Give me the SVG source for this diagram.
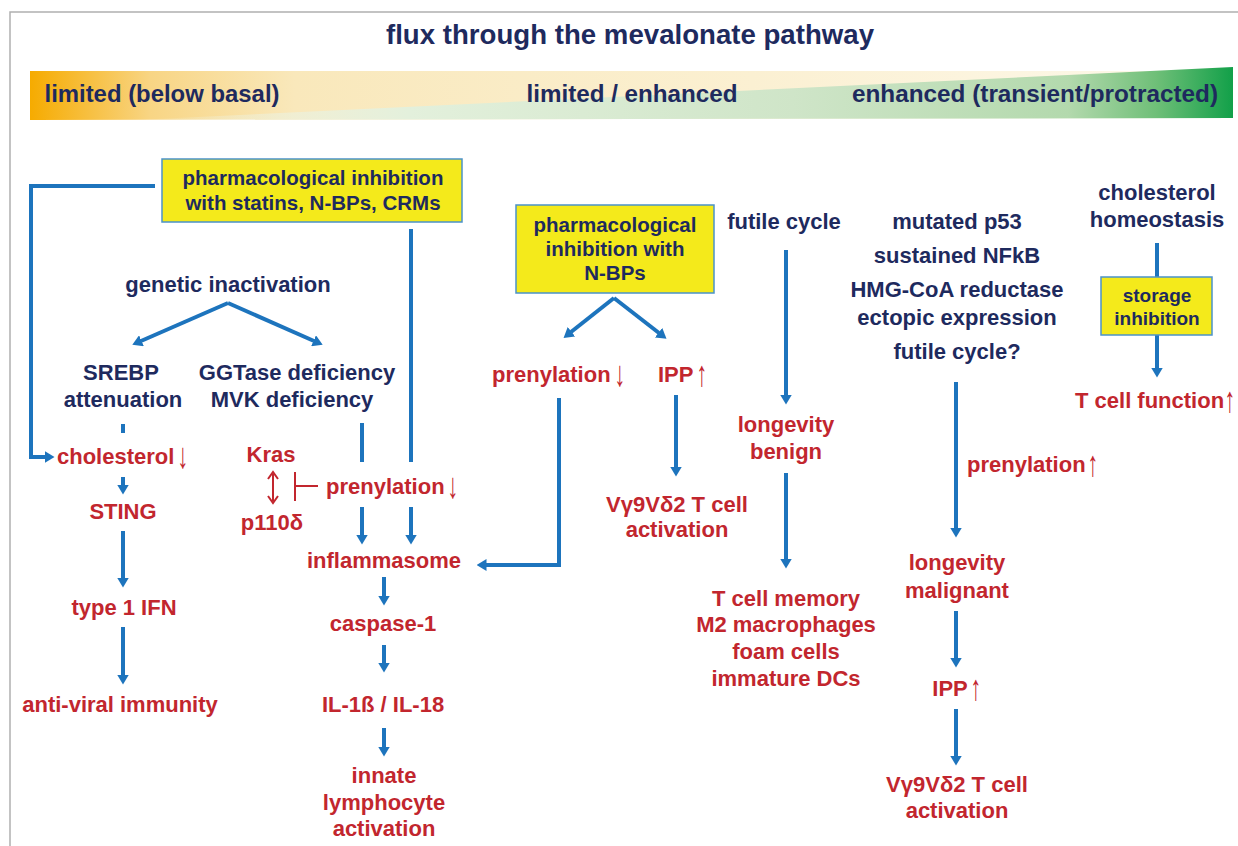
<svg xmlns="http://www.w3.org/2000/svg" width="1238" height="846" viewBox="0 0 1238 846">
<defs>
<linearGradient id="gy" x1="30" y1="0" x2="1233" y2="0" gradientUnits="userSpaceOnUse">
<stop offset="0" stop-color="#f6ab00"/>
<stop offset="0.1" stop-color="#f8d584"/>
<stop offset="0.22" stop-color="#f9e8bb"/>
<stop offset="0.6" stop-color="#fbf0d2"/>
<stop offset="1" stop-color="#fdf9ec"/>
</linearGradient>
<linearGradient id="gg" x1="135" y1="0" x2="1233" y2="0" gradientUnits="userSpaceOnUse">
<stop offset="0" stop-color="#f2f7ee" stop-opacity="0"/>
<stop offset="0.25" stop-color="#e3f0dc"/>
<stop offset="0.6" stop-color="#cfe5c8"/>
<stop offset="0.85" stop-color="#b3d9ad"/>
<stop offset="0.93" stop-color="#6fbf78"/>
<stop offset="1" stop-color="#12a049"/>
</linearGradient>
<marker id="ah" viewBox="0 0 10 12" markerWidth="10" markerHeight="12" refX="0.5" refY="6" orient="auto" markerUnits="userSpaceOnUse">
<path d="M0,0 L10,6 L0,12 z" fill="#1d74bd"/>
</marker>
<style>
text{font-family:"Liberation Sans",Arial,sans-serif;font-weight:bold;text-anchor:middle}
.n{fill:#1e2a5e;font-size:22px}
.r{fill:#c2262e;font-size:22px}
.b{fill:#1e2a5e;font-size:20.5px}
.s{fill:#1e2a5e;font-size:19px}
.ban{fill:#1e2a5e;font-size:24px}
.st{text-anchor:start}
.ra{fill:#c2262e;font-size:36px;font-weight:normal}
.box{fill:#f4ea1b;stroke:#4b92c9;stroke-width:1.5}
.c{fill:none;stroke:#1d74bd;stroke-width:4}
.ca{fill:none;stroke:#1d74bd;stroke-width:4;marker-end:url(#ah)}
.rl{fill:none;stroke:#c2262e;stroke-width:2}
</style>
</defs>
<rect width="1238" height="846" fill="#ffffff"/>
<path d="M10,846 V12 H1238" fill="none" stroke="#b0b0b0" stroke-width="1.5"/>

<g id="header">
<text x="630" y="44" fill="#1e2a5e" font-size="27" textLength="488" lengthAdjust="spacingAndGlyphs">flux through the mevalonate pathway</text>
<polygon points="30,71 1233,71 1233,118 30,120" fill="url(#gy)"/>
<polygon points="135,120 1233,67 1233,118" fill="url(#gg)"/>
<text class="ban" x="162" y="102" textLength="235" lengthAdjust="spacingAndGlyphs">limited (below basal)</text>
<text class="ban" x="632" y="102" textLength="211" lengthAdjust="spacingAndGlyphs">limited / enhanced</text>
<text class="ban" x="1035" y="102" textLength="366" lengthAdjust="spacingAndGlyphs">enhanced (transient/protracted)</text>
</g>

<g id="connectors">
<path class="ca" d="M155,186 H31 V457 H45"/>
<line class="c" x1="123" y1="424" x2="123" y2="433"/>
<path class="ca" d="M123,477 V485"/>
<path class="ca" d="M123,531 V578"/>
<path class="ca" d="M123,627 V675"/>
<path class="ca" d="M228,303 L141,341"/>
<path class="ca" d="M228,303 L314,341"/>
<line class="c" x1="362" y1="423" x2="362" y2="462"/>
<line class="c" x1="411" y1="229" x2="411" y2="462"/>
<path class="ca" d="M362,507 V535"/>
<path class="ca" d="M411,507 V535"/>
<path class="ca" d="M384,577 V596"/>
<path class="ca" d="M384,645 V663"/>
<path class="ca" d="M384,728 V747"/>
<path class="ca" d="M614,298 L571,332"/>
<path class="ca" d="M614,298 L659,333"/>
<path class="ca" d="M559,398 V565 H486"/>
<path class="ca" d="M676,395 V467"/>
<path class="ca" d="M786,250 V395"/>
<path class="ca" d="M786,473 V559"/>
<path class="ca" d="M956,382 V528"/>
<path class="ca" d="M956,611 V658"/>
<path class="ca" d="M956,709 V756"/>
<line class="c" x1="1157" y1="243" x2="1157" y2="277"/>
<path class="ca" d="M1157,335 V368"/>
<path class="rl" d="M273,474 V501 M268,479 L273,472 L278,479 M268,496 L273,503 L278,496"/>
<path class="rl" d="M295,472 V501 M295,486 H318"/>
</g>

<g id="statins">
<rect class="box" x="162" y="159" width="300" height="63"/>
<text class="b" x="313" y="185">pharmacological inhibition</text>
<text class="b" x="313" y="210">with statins, N-BPs, CRMs</text>
</g>
<g id="genetic"><text class="n" x="228" y="292">genetic inactivation</text></g>
<g id="srebp"><text class="n" x="121" y="380">SREBP</text><text class="n" x="123" y="407">attenuation</text></g>
<g id="ggtase"><text class="n" x="297" y="380">GGTase deficiency</text><text class="n" x="292" y="407">MVK deficiency</text></g>
<g id="cholesterol"><text class="r st" x="57" y="464">cholesterol</text><text class="ra" transform="translate(183,468) scale(0.6,1)">↓</text></g>
<g id="sting"><text class="r" x="123" y="519">STING</text></g>
<g id="ifn"><text class="r" x="124" y="615">type 1 IFN</text></g>
<g id="antiviral"><text class="r" x="120" y="712">anti-viral immunity</text></g>
<g id="kras"><text class="r" x="271" y="462">Kras</text></g>
<g id="p110"><text class="r" x="272" y="530">p110δ</text></g>
<g id="prenyl1"><text class="r st" x="326" y="494">prenylation</text><text class="ra" transform="translate(453,498) scale(0.6,1)">↓</text></g>
<g id="inflammasome"><text class="r" x="384" y="568">inflammasome</text></g>
<g id="caspase"><text class="r" x="383" y="631">caspase-1</text></g>
<g id="il1"><text class="r" x="383" y="712">IL-1ß / IL-18</text></g>
<g id="innate"><text class="r" x="384" y="783">innate</text><text class="r" x="384" y="810">lymphocyte</text><text class="r" x="384" y="836">activation</text></g>

<g id="nbps">
<rect class="box" x="516" y="205" width="198" height="88"/>
<text class="b" x="615" y="232">pharmacological</text>
<text class="b" x="615" y="256">inhibition with</text>
<text class="b" x="615" y="280">N-BPs</text>
</g>
<g id="prenyl2"><text class="r st" x="492" y="382">prenylation</text><text class="ra" transform="translate(620,386) scale(0.6,1)">↓</text></g>
<g id="ipp1"><text class="r st" x="658" y="382">IPP</text><text class="ra" transform="translate(702,386) scale(0.6,1)">↑</text></g>
<g id="vg1"><text class="r" x="677" y="512">Vγ9Vδ2 T cell</text><text class="r" x="677" y="537">activation</text></g>

<g id="futile"><text class="n" x="784" y="229">futile cycle</text></g>
<g id="benign"><text class="r" x="786" y="432">longevity</text><text class="r" x="786" y="459">benign</text></g>
<g id="memory"><text class="r" x="786" y="606">T cell memory</text><text class="r" x="786" y="632">M2 macrophages</text><text class="r" x="786" y="659">foam cells</text><text class="r" x="786" y="686">immature DCs</text></g>

<g id="p53">
<text class="n" x="957" y="229">mutated p53</text>
<text class="n" x="957" y="263">sustained NFkB</text>
<text class="n" x="957" y="297">HMG-CoA reductase</text>
<text class="n" x="957" y="325">ectopic expression</text>
<text class="n" x="957" y="359">futile cycle?</text>
</g>
<g id="prenyl3"><text class="r st" x="967" y="472">prenylation</text><text class="ra" transform="translate(1093,476) scale(0.6,1)">↑</text></g>
<g id="malignant"><text class="r" x="957" y="570">longevity</text><text class="r" x="957" y="598">malignant</text></g>
<g id="ipp2"><text class="r" x="950" y="696">IPP</text><text class="ra" transform="translate(976,700) scale(0.6,1)">↑</text></g>
<g id="vg2"><text class="r" x="957" y="792">Vγ9Vδ2 T cell</text><text class="r" x="957" y="818">activation</text></g>

<g id="homeostasis"><text class="n" x="1157" y="200">cholesterol</text><text class="n" x="1157" y="227">homeostasis</text></g>
<g id="storage">
<rect class="box" x="1101" y="277" width="111" height="58"/>
<text class="s" x="1157" y="302">storage</text>
<text class="s" x="1157" y="325">inhibition</text>
</g>
<g id="tcell"><text class="r st" x="1075" y="408">T cell function</text><text class="ra" transform="translate(1230,412) scale(0.6,1)">↑</text></g>
</svg>
